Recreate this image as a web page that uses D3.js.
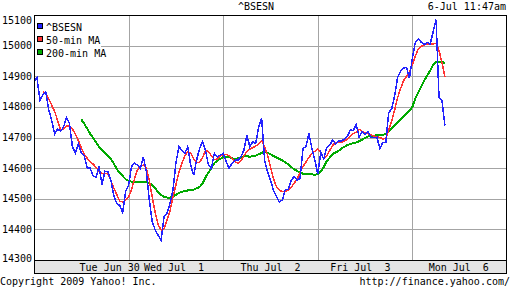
<!DOCTYPE html>
<html>
<head>
<meta charset="utf-8">
<script src="https://cdn.jsdelivr.net/npm/d3@7"></script>
<style>
body { margin: 0; background: #fff; }
svg text { font-family: "DejaVu Sans Mono", monospace; font-size: 10px; fill: #000; white-space: pre; }
</style>
</head>
<body>
<svg id="chart" width="512" height="288"></svg>
<script>
// layout
var PLOT_L = 34, PLOT_R = 507, PLOT_T = 15, PLOT_B = 260;
var STRIP_H = 13;
var SAMPLES_PER_DAY = 32;

// axis labels
var dayLabels = ["Tue Jun 30", "Wed Jul  1", "Thu Jul  2", "Fri Jul  3", "Mon Jul  6"];
var dayLabelPos = [0.8, 1.48, 2.5, 3.45, 4.49];
var daySeparators = [1, 2, 3, 4];
var yTicks = [14300, 14400, 14500, 14600, 14700, 14800, 14900, 15000, 15100];

// ^BSESN index, sampled 32 times per trading day, from Tue Jun 30 open
var bsesn = [
	14882, 14895, 14822, 14840, 14848, 14790, 14755, 14712, 14728, 14720, 14735, 14765, 14745, 14670, 14650, 14680,
	14650, 14640, 14600, 14600, 14575, 14570, 14605, 14545, 14590, 14588, 14560, 14510, 14485, 14478, 14455, 14525,
	14545, 14605, 14616, 14610, 14599, 14637, 14588, 14496, 14425, 14398, 14381, 14365, 14441, 14452, 14485, 14528,
	14616, 14670, 14659, 14648, 14670, 14610, 14577, 14626, 14664, 14686, 14659, 14610, 14599, 14648, 14637, 14642,
	14648, 14621, 14599, 14616, 14626, 14626, 14637, 14659, 14708, 14670, 14686, 14681, 14735, 14763, 14626, 14588,
	14561, 14528, 14507, 14490, 14496, 14530, 14530, 14561, 14572, 14561, 14566, 14664, 14670, 14713, 14664, 14626,
	14581, 14652, 14630, 14668, 14674, 14692, 14679, 14690, 14688, 14695, 14703, 14725, 14723, 14742, 14701, 14720,
	14710, 14720, 14701, 14699, 14701, 14663, 14684, 14684, 14782, 14793, 14837, 14897, 14916, 14927, 14929, 14894,
	14960, 15011, 15022, 15011, 15003, 15011, 15005, 15044, 15085, 14831, 14820, 14739
];

// 50-min moving average, starts at sample 3
var ma50Start = 3;
var ma50 = [
	14850, 14845, 14825, 14805, 14785, 14755, 14726, 14728, 14738, 14738, 14728, 14712, 14690,
	14666, 14646, 14632, 14622, 14613, 14603, 14590, 14583, 14583, 14582, 14560, 14534, 14514, 14492, 14490, 14495,
	14505, 14530, 14565, 14595, 14605, 14610, 14600, 14560, 14505, 14455, 14415, 14398, 14403, 14430, 14460, 14505,
	14545, 14585, 14615, 14640, 14653, 14650, 14630, 14618, 14618, 14635, 14656, 14655, 14640, 14628, 14630, 14640,
	14645, 14645, 14640, 14630, 14621, 14615, 14624, 14640, 14655, 14662, 14667, 14672, 14678, 14690, 14670, 14643,
	14605, 14565, 14540, 14528, 14523, 14523, 14528, 14538, 14550, 14565, 14585, 14605, 14620, 14635, 14648, 14655,
	14662, 14650, 14630, 14640, 14657, 14674, 14684, 14684, 14684, 14688, 14695, 14705, 14713, 14717, 14727, 14720,
	14716, 14712, 14708, 14705, 14703, 14700, 14695, 14698, 14725, 14755, 14790, 14830, 14860, 14885, 14900, 14915,
	14938, 14965, 14990, 14998, 15002, 15005, 15005, 15005, 15008, 14984, 14945, 14897
];

// 200-min moving average, starts at sample 16
var ma200Start = 16;
var ma200 = [
	14759, 14745, 14729, 14712, 14699, 14684, 14670, 14660, 14650, 14641, 14630, 14615, 14597, 14585, 14574, 14564,
	14558, 14556, 14556, 14556, 14556, 14556, 14555, 14550, 14545, 14535, 14520, 14512, 14506, 14504, 14504, 14507,
	14513, 14519, 14523, 14525, 14527, 14528, 14530, 14534, 14538, 14550, 14570, 14585, 14600, 14616, 14625, 14630,
	14637, 14637, 14636, 14632, 14630, 14632, 14635, 14639, 14639, 14637, 14639, 14641, 14645, 14650, 14653, 14650,
	14645, 14640, 14635, 14630, 14625, 14619, 14612, 14604, 14596, 14591, 14585, 14582, 14580, 14580, 14580, 14578,
	14581, 14588, 14603, 14622, 14634, 14646, 14651, 14656, 14664, 14670, 14675, 14679, 14682, 14684, 14688, 14693,
	14699, 14703, 14706, 14706, 14707, 14708, 14709, 14711, 14721, 14731, 14741, 14750, 14760, 14769, 14778, 14787,
	14800, 14828, 14848, 14866, 14886, 14903, 14918, 14938, 14946, 14946, 14946, 14944
];

var series = [
	{ name: "^BSESN", values: bsesn, start: 0, color: "#2222ff", width: 1.5 },
	{ name: "50-min MA", values: ma50, start: ma50Start, color: "#ff3333", width: 1.5 },
	{ name: "200-min MA", values: ma200, start: ma200Start, color: "#00aa00", width: 2 }
];

var svg = d3.select("#chart");

var x = d3.scaleLinear().domain([0, 5]).range([PLOT_L, PLOT_R]);
var y = d3.scaleLinear().domain([14300, 15100]).range([PLOT_B, PLOT_T]);

// horizontal grid
svg.append("g")
	.selectAll("line")
	.data(yTicks.slice(1, -1))
	.join("line")
	.attr("x1", PLOT_L).attr("x2", PLOT_R)
	.attr("y1", function(d) { return Math.round(y(d)) + 0.5; })
	.attr("y2", function(d) { return Math.round(y(d)) + 0.5; })
	.attr("stroke", "#a4a4a4");

// day separators
svg.append("g")
	.selectAll("line")
	.data(daySeparators)
	.join("line")
	.attr("x1", function(d) { return Math.round(x(d)) + 0.5; })
	.attr("x2", function(d) { return Math.round(x(d)) + 0.5; })
	.attr("y1", PLOT_T).attr("y2", PLOT_B)
	.attr("stroke", "#a4a4a4");

// y labels (kept inside the plot height)
svg.append("g")
	.selectAll("text")
	.data(yTicks)
	.join("text")
	.attr("x", PLOT_L - 2)
	.attr("y", function(d) { return Math.min(PLOT_B - 2, Math.max(PLOT_T + 5, y(d))); })
	.attr("dy", "0.35em")
	.attr("text-anchor", "end")
	.text(function(d) { return d; });

// legend background hides grid
svg.append("rect")
	.attr("x", PLOT_L + 1).attr("y", PLOT_T + 1)
	.attr("width", 66).attr("height", 42)
	.attr("fill", "#fff");

// the data lines, aliased like the old gif
svg.append("clipPath").attr("id", "plotClip")
	.append("rect")
	.attr("x", PLOT_L).attr("y", PLOT_T)
	.attr("width", PLOT_R - PLOT_L).attr("height", PLOT_B - PLOT_T);

var lines = svg.append("g").attr("clip-path", "url(#plotClip)");
series.slice().reverse().forEach(function(s) {
	var line = d3.line()
		.x(function(d, i) { return x((s.start + i) / SAMPLES_PER_DAY); })
		.y(function(d) { return y(d); });
	lines.append("path")
		.datum(s.values)
		.attr("fill", "none")
		.attr("stroke", s.color)
		.attr("stroke-width", s.width)
		.attr("shape-rendering", "crispEdges")
		.attr("d", line);
});

// legend
var legend = svg.append("g");
series.forEach(function(s, i) {
	var ly = PLOT_T + 9 + i * 13;
	legend.append("rect")
		.attr("x", 37.5).attr("y", ly - 0.5)
		.attr("width", 5).attr("height", 5)
		.attr("fill", s.color)
		.attr("stroke", "#000");
	legend.append("text")
		.attr("x", 46).attr("y", ly + 7)
		.text(s.name);
});

// plot frame
svg.append("rect")
	.attr("x", PLOT_L + 0.5).attr("y", PLOT_T + 0.5)
	.attr("width", PLOT_R - PLOT_L - 1).attr("height", PLOT_B - PLOT_T)
	.attr("fill", "none")
	.attr("stroke", "#000");

// date strip
svg.append("rect")
	.attr("x", PLOT_L + 0.5).attr("y", PLOT_B + 0.5)
	.attr("width", PLOT_R - PLOT_L - 1).attr("height", STRIP_H)
	.attr("fill", "#e4e4e4")
	.attr("stroke", "#000");

svg.append("g")
	.selectAll("text")
	.data(dayLabels)
	.join("text")
	.attr("x", function(d, i) { return x(dayLabelPos[i]); })
	.attr("y", PLOT_B + 11)
	.attr("text-anchor", "middle")
	.text(function(d) { return d; });

// titles and credits
svg.append("text").attr("x", 256).attr("y", 10).attr("text-anchor", "middle").text("^BSESN");
svg.append("text").attr("x", 506).attr("y", 10).attr("text-anchor", "end").text("6-Jul 11:47am");
svg.append("text").attr("x", 0).attr("y", 285).text("Copyright 2009 Yahoo! Inc.");
svg.append("text").attr("x", 510).attr("y", 285).attr("text-anchor", "end").text("http://finance.yahoo.com/");
</script>
</body>
</html>
